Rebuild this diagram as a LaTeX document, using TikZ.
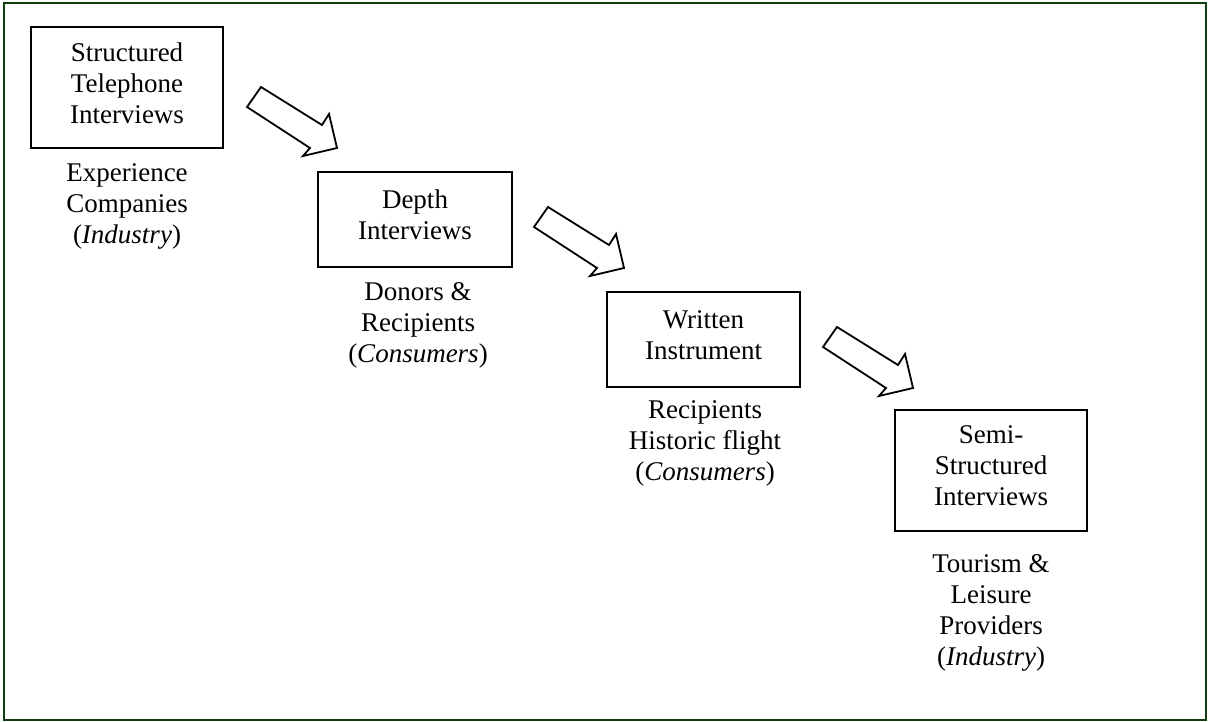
\documentclass[tikz,border=0pt]{standalone}
\usepackage{fontspec}
\setmainfont{Liberation Serif}
\definecolor{framegreen}{RGB}{16,62,16}
\newcommand{\lowpad}{\rule[-4.5pt]{0pt}{4.5pt}}
\tikzset{
  every node/.style={font=\fontsize{13.5pt}{15.5pt}\selectfont},
  stepbox/.style={draw, line width=0.9pt, align=center, inner sep=0pt},
  caption/.style={align=center, inner sep=0pt},
  arrowline/.style={draw, line width=0.9pt, line join=miter, fill=white},
  blockarrow/.pic={\path[arrowline] (261,87)--(322,125)--(329,114)--(337,148)--(303,156)--(310,148)--(247,107)--cycle;}
}
\begin{document}
\begin{tikzpicture}[x=0.5pt,y=-0.5pt]
\useasboundingbox (0,0) rectangle (1209,722);
\draw[framegreen, line width=1.1pt] (4,3) rectangle (1206,720);

\node[stepbox, minimum width=96pt, minimum height=60.5pt] (b1) at (127,87.5) {Structured\\Telephone\\Interviews\lowpad};
\node[caption] (c1) at (127,206) {Experience\\Companies\\(\textit{Industry})};

\node[stepbox, minimum width=97pt, minimum height=47.5pt] (b2) at (415,219.5) {Depth\\Interviews\lowpad};
\node[caption] (c2) at (418,325) {Donors \&\\Recipients\\(\textit{Consumers})};

\node[stepbox, minimum width=96.5pt, minimum height=47.5pt] (b3) at (703.5,339.5) {Written\\Instrument\lowpad};
\node[caption] (c3) at (705,443) {Recipients\\Historic flight\\(\textit{Consumers})};

\node[stepbox, minimum width=96pt, minimum height=60.5pt] (b4) at (991,470.5) {Semi-\\Structured\\Interviews\lowpad};
\node[caption] (c4) at (991,613) {Tourism \&\\Leisure\\Providers\\(\textit{Industry})};

\pic at (0,0) {blockarrow};
\pic at (287,120) {blockarrow};
\pic at (576,240) {blockarrow};
\end{tikzpicture}
\end{document}
